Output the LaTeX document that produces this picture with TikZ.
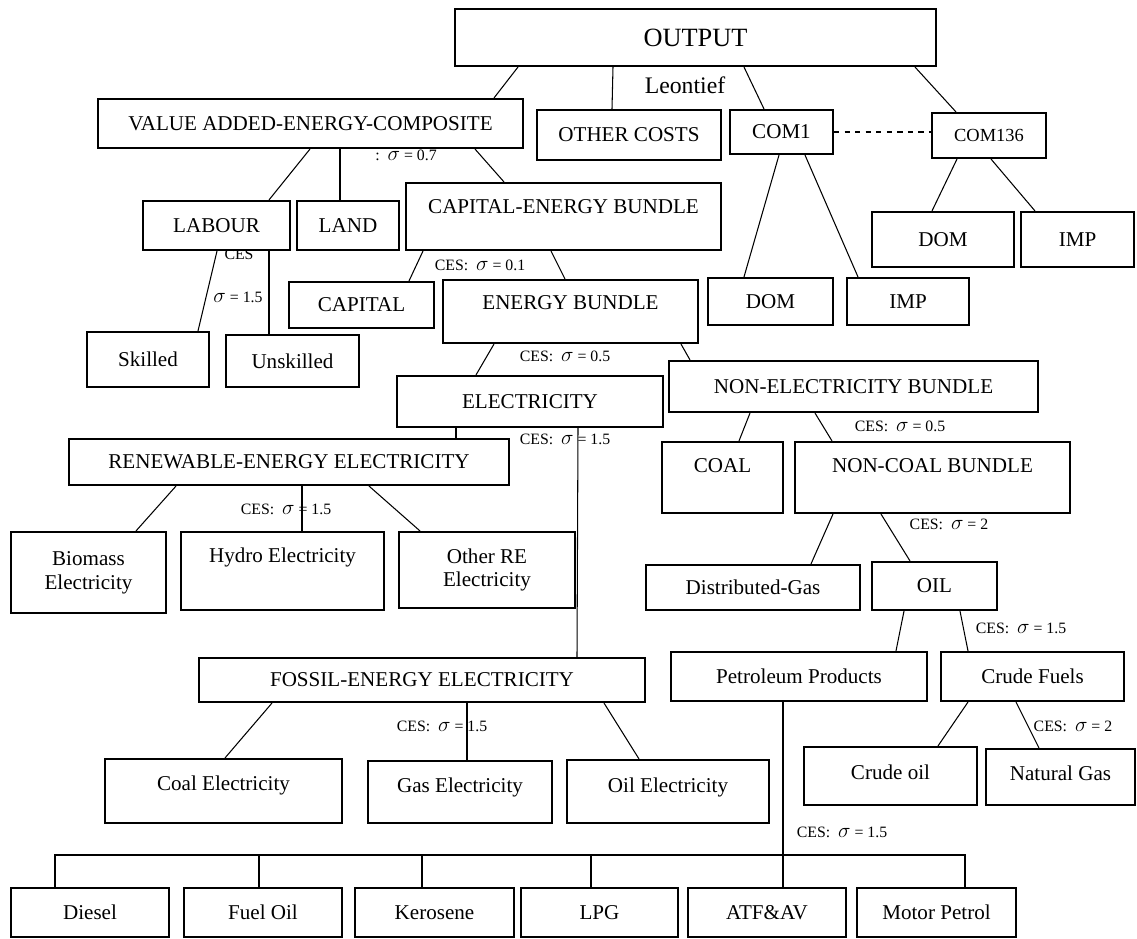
\documentclass[tikz,border=0pt]{standalone}
\usepackage{fontspec}
\setmainfont{Liberation Serif}
\usepackage{tikz}
\usetikzlibrary{positioning}
\newcommand{\sgm}{{\fontsize{12}{12}\selectfont$\sigma$}}

\begin{document}
\begin{tikzpicture}[x=0.02cm,y=-0.02cm,semithick,
    sz/.style 2 args={minimum width=#1*0.02cm,minimum height=#2*0.02cm},
    up/.style={text height=0.28cm,text depth=#1*0.02cm}]
\tikzstyle{box}=[draw,line width=1.2pt,fill=white,inner sep=1pt,align=center,font=\fontsize{12}{13.6}\selectfont]
\tikzstyle{ces}=[inner sep=0pt,font=\fontsize{9}{10}\selectfont]
\useasboundingbox (0,0) rectangle (1137,939);

% labels
\node[ces] (ces-lab) at (239,254) {CES};
\node[ces] (leontief) at (685,85) {\fontsize{13.5}{14}\selectfont Leontief};
\node[ces] (ces-va) at (406,155) {:\ \ \sgm{} = 0.7};
\node[ces] (ces-lab2) at (238,297) {\sgm{} = 1.5};
\node[ces] (ces-capen) at (480,265) {CES:\ \ \sgm{} = 0.1};
\node[ces] (ces-enb) at (565,356) {CES:\ \ \sgm{} = 0.5};
\node[ces] (ces-elec) at (565,439) {CES:\ \ \sgm{} = 1.5};
\node[ces] (ces-nonel) at (900,426) {CES:\ \ \sgm{} = 0.5};
\node[ces] (ces-renew) at (286,509) {CES:\ \ \sgm{} = 1.5};
\node[ces] (ces-noncoal) at (949,524) {CES:\ \ \sgm{} = 2};
\node[ces] (ces-oil) at (1021,628) {CES:\ \ \sgm{} = 1.5};
\node[ces] (ces-crude) at (1073,726) {CES:\ \ \sgm{} = 2};
\node[ces] (ces-fossil) at (442,726) {CES:\ \ \sgm{} = 1.5};
\node[ces] (ces-petro) at (842,832) {CES:\ \ \sgm{} = 1.5};

% boxes
\node[box,sz={481}{57},font=\fontsize{15}{16}\selectfont] (out) at (695.5,37.5) {OUTPUT};
\node[box,sz={425}{49}] (va) at (310.5,123.5) {VALUE ADDED-ENERGY-COMPOSITE};
\node[box,sz={184}{50}] (oth) at (629,135) {OTHER COSTS};
\node[box,sz={103}{44}] (com1) at (781.5,132) {COM1};
\node[box,sz={114}{45},font=\fontsize{10.5}{12}\selectfont] (com136) at (989,135.5) {COM136};
\node[box,sz={142}{55}] (dom2) at (943,239.5) {DOM};
\node[box,sz={113}{55}] (imp2) at (1077.5,239.5) {IMP};
\node[box,sz={147}{49}] (labour) at (216.5,225.5) {LABOUR};
\node[box,sz={102}{49}] (land) at (348,225.5) {LAND};
\node[box,sz={315}{67},up=19] (capen) at (563.5,216.5) {CAPITAL-ENERGY BUNDLE};
\node[box,sz={145}{46}] (capital) at (361.5,305) {CAPITAL};
\node[box,sz={255}{63},up=17] (enb) at (570.5,311.5) {ENERGY BUNDLE};
\node[box,sz={125}{47}] (dom1) at (770.5,301.5) {DOM};
\node[box,sz={122}{47}] (imp1) at (908,301.5) {IMP};
\node[box,sz={122}{55}] (skilled) at (148,359.5) {Skilled};
\node[box,sz={133}{52}] (unskilled) at (292.5,361) {Unskilled};
\node[box,sz={266}{51}] (elec) at (530,401.5) {ELECTRICITY};
\node[box,sz={369}{51}] (nonel) at (853.5,386.5) {NON-ELECTRICITY BUNDLE};
\node[box,sz={440}{46}] (renew) at (289,462) {RENEWABLE-ENERGY ELECTRICITY};
\node[box,sz={121}{71},up=23] (coal) at (722.5,477.5) {COAL};
\node[box,sz={275}{71},up=23] (noncoal) at (932.5,477.5) {NON-COAL BUNDLE};
\node[box,sz={155}{81}] (biomass) at (88.5,572.5) {Biomass\\Electricity};
\node[box,sz={203}{78},up=30] (hydro) at (282.5,571) {Hydro Electricity};
\node[box,sz={176}{76}] (otherre) at (487,570) {Other RE\\Electricity};
\node[box,sz={214}{45}] (dgas) at (753,587.5) {Distributed-Gas};
\node[box,sz={125}{48}] (oil) at (934.5,586) {OIL};
\node[box,sz={256}{49}] (petro) at (799,676.5) {Petroleum Products};
\node[box,sz={183}{49}] (crude) at (1032.5,676.5) {Crude Fuels};
\node[box,sz={446}{44}] (fossil) at (422,680) {FOSSIL-ENERGY ELECTRICITY};
\node[box,sz={237}{64},up=16] (coalel) at (223.5,791) {Coal Electricity};
\node[box,sz={184}{62},up=14] (gasel) at (460,792) {Gas Electricity};
\node[box,sz={202}{63},up=13] (oilel) at (668,791.5) {Oil Electricity};
\node[box,sz={173}{58},up=8] (crudeoil) at (890.5,776) {Crude oil};
\node[box,sz={149}{56},up=8] (natgas) at (1060.5,777) {Natural Gas};
\node[box,sz={158}{49}] (diesel) at (90,912.5) {Diesel};
\node[box,sz={158}{49}] (fuel) at (263,912.5) {Fuel Oil};
\node[box,sz={159}{49}] (kero) at (434.5,912.5) {Kerosene};
\node[box,sz={157}{49}] (lpg) at (599.5,912.5) {LPG};
\node[box,sz={158}{49}] (atf) at (767,912.5) {ATF\&AV};
\node[box,sz={159}{49}] (motor) at (936.5,912.5) {Motor Petrol};

% connectors
\draw (out.south -| 518,0) -- (va.north -| 494,0);
\draw (out.south -| 613,0) -- (oth.north -| 612,0);
\draw (out.south -| 744,0) -- (com1.north -| 764,0);
\draw (out.south -| 915,0) -- (com136.north -| 956,0);
\draw[dashed] (com1.east) -- (com1.east -| com136.west);
\draw (com136.south -| 957,0) -- (dom2.north -| 932,0);
\draw (com136.south -| 991,0) -- (imp2.north -| 1035,0);
\draw (com1.south -| 779,0) -- (dom1.north -| 744,0);
\draw (com1.south -| 805,0) -- (imp1.north -| 858,0);
\draw (va.south -| 310,0) -- (labour.north -| 269,0);
\draw (va.south -| 340,0) -- (land.north -| 340,0);
\draw (va.south -| 475,0) -- (capen.north -| 504,0);
\draw (labour.south -| 217,0) -- (skilled.north -| 198,0);
\draw (labour.south -| 269,0) -- (unskilled.north -| 269,0);
\draw (capen.south -| 423,0) -- (capital.north -| 409,0);
\draw (capen.south -| 551,0) -- (enb.north -| 565,0);
\draw (enb.south -| 494,0) -- (elec.north -| 476,0);
\draw (enb.south -| 681,0) -- (nonel.north -| 690,0);
\draw (elec.south -| 456,0) -- (renew.north -| 456,0);
\draw (elec.south -| 578,0) -- (fossil.north -| 577,0);
\draw (renew.south -| 176,0) -- (biomass.north -| 136,0);
\draw (renew.south -| 302,0) -- (hydro.north -| 302,0);
\draw (renew.south -| 369,0) -- (otherre.north -| 420,0);
\draw (nonel.south -| 750,0) -- (coal.north -| 739,0);
\draw (nonel.south -| 815,0) -- (noncoal.north -| 832,0);
\draw (noncoal.south -| 833,0) -- (dgas.north -| 811,0);
\draw (noncoal.south -| 881,0) -- (oil.north -| 910,0);
\draw (oil.south -| 904,0) -- (petro.north -| 896,0);
\draw (oil.south -| 960,0) -- (crude.north -| 968,0);
\draw (crude.south -| 968,0) -- (crudeoil.north -| 938,0);
\draw (crude.south -| 1016,0) -- (natgas.north -| 1039,0);
\draw (fossil.south -| 272,0) -- (coalel.north -| 225,0);
\draw (fossil.south -| 467,0) -- (gasel.north -| 467,0);
\draw (fossil.south -| 604,0) -- (oilel.north -| 639,0);

% petroleum products bus
\coordinate (busl) at (55,855);
\coordinate (busr) at (965,855);
\draw (petro.south -| 783,0) -- (atf.north -| 783,0);
\draw (diesel.north -| busl) -- (busl) -- (busr) -- (motor.north -| busr);
\foreach \n/\x in {fuel/259,kero/422,lpg/591}
    \draw (\n.north -| \x,0) -- (busl -| \x,0);
\end{tikzpicture}
\end{document}
